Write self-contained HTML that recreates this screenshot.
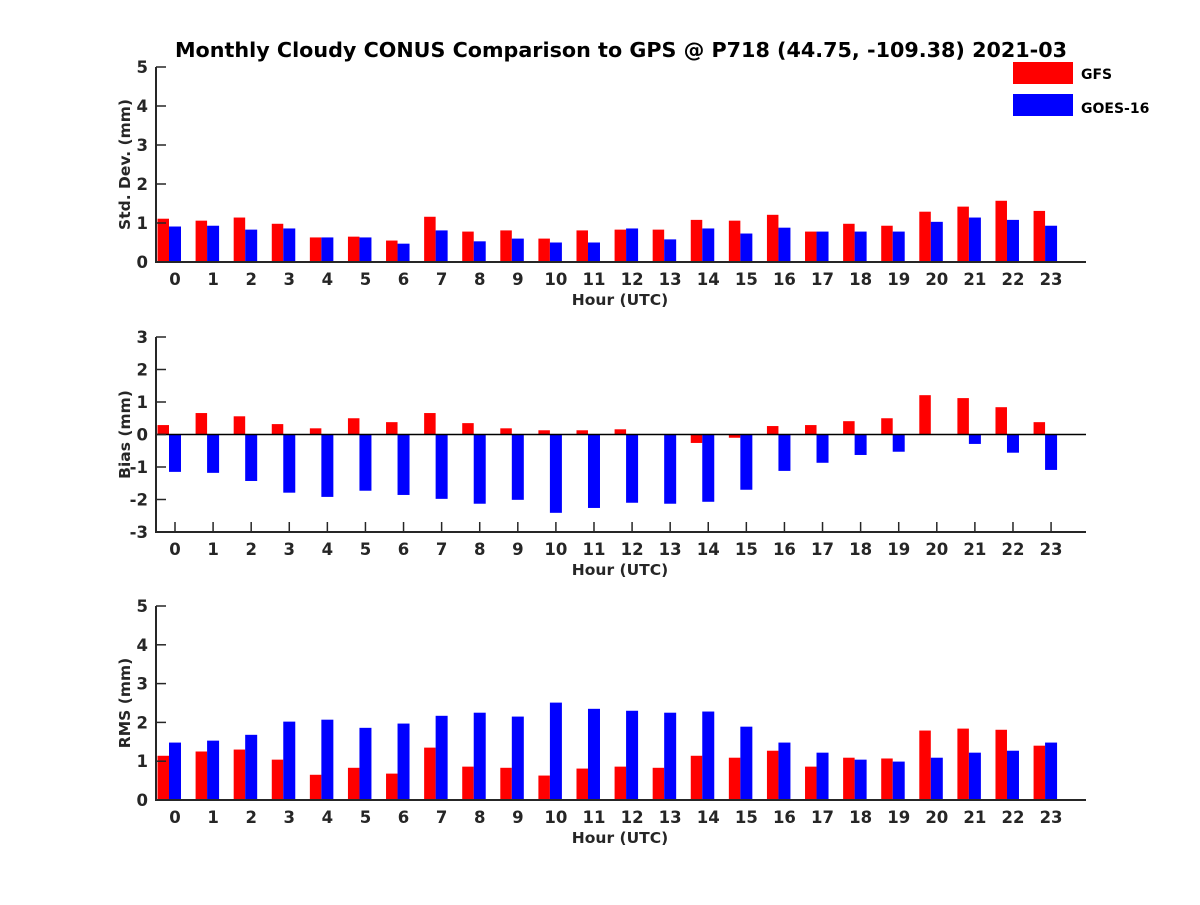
<!DOCTYPE html>
<html><head><meta charset="utf-8"><style>
body{margin:0;background:#fff;}
svg text{font-family:"DejaVu Sans","Liberation Sans",sans-serif;font-weight:bold;}
</style></head><body>
<svg id="chart" width="1200" height="900" xmlns="http://www.w3.org/2000/svg">
<text x="621" y="57" font-size="20.7" text-anchor="middle" fill="#000">Monthly Cloudy CONUS Comparison to GPS @ P718 (44.75, -109.38) 2021-03</text>
<g>
<rect x="1013" y="62" width="60" height="22" fill="#ff0000"/>
<text x="1081" y="79" font-size="14" fill="#000">GFS</text>
<rect x="1013" y="94" width="60" height="22" fill="#0000ff"/>
<text x="1081" y="113" font-size="14" fill="#000">GOES-16</text>
</g>
</svg>
<script>
const hours = [0,1,2,3,4,5,6,7,8,9,10,11,12,13,14,15,16,17,18,19,20,21,22,23];
const stdGFS  = [1.11,1.06,1.14,0.98,0.63,0.65,0.55,1.16,0.78,0.81,0.60,0.81,0.83,0.83,1.08,1.06,1.21,0.78,0.98,0.93,1.29,1.42,1.57,1.31];
const stdGOES = [0.91,0.93,0.83,0.86,0.63,0.63,0.47,0.81,0.53,0.60,0.50,0.50,0.86,0.58,0.86,0.73,0.88,0.78,0.78,0.78,1.03,1.14,1.08,0.93];
const biasGFS  = [0.29,0.66,0.56,0.32,0.19,0.50,0.38,0.66,0.35,0.19,0.13,0.13,0.16,0.0,-0.26,-0.10,0.26,0.29,0.41,0.50,1.21,1.12,0.84,0.38];
const biasGOES = [-1.15,-1.18,-1.43,-1.79,-1.92,-1.73,-1.86,-1.98,-2.13,-2.01,-2.41,-2.26,-2.10,-2.13,-2.07,-1.70,-1.12,-0.87,-0.63,-0.53,0.0,-0.29,-0.56,-1.09];
const rmsGFS  = [1.14,1.25,1.30,1.04,0.65,0.83,0.68,1.35,0.86,0.83,0.63,0.81,0.86,0.83,1.14,1.09,1.27,0.86,1.09,1.07,1.79,1.84,1.81,1.40];
const rmsGOES = [1.48,1.53,1.68,2.02,2.07,1.86,1.97,2.17,2.25,2.15,2.51,2.35,2.30,2.25,2.28,1.89,1.48,1.22,1.04,0.99,1.09,1.22,1.27,1.48];
const stdTicks = [0,1,2,3,4,5];
const biasTicks = [-3,-2,-1,0,1,2,3];
const rmsTicks = [0,1,2,3,4,5];

const NS='http://www.w3.org/2000/svg';
const svg=document.getElementById('chart');
function mk(tag,attrs,parent){const e=document.createElementNS(NS,tag);for(const k in attrs)e.setAttribute(k,attrs[k]);(parent||svg).appendChild(e);return e;}
const X0=156,X1=1086;
function xs(h){return 175+38.09*h;}

function panel(key,top,bottom,ymin,ymax,ticks,red,blue,ylabel,zeroLine,bottomTicks){
  const g=mk('g',{});
  
  
  const ys=v=>bottom-(v-ymin)/(ymax-ymin)*(bottom-top);
  const z=ys(Math.max(ymin,0));
  hours.forEach((h,i)=>{
    const t=xs(h);
    const vr=red[i], vb=blue[i];
    const r=mk('rect',{x:t-17.5,y:Math.min(ys(vr),z),width:11.5,height:Math.abs(ys(vr)-z),fill:'#ff0000'},g);
    
    
    const b=mk('rect',{x:t-6,y:Math.min(ys(vb),z),width:12,height:Math.abs(ys(vb)-z),fill:'#0000ff'},g);
    
    
    const lb=mk('text',{x:t,y:bottom+23,'font-size':16.5,'text-anchor':'middle',fill:'#262626'},g);
    lb.textContent=h;
    
    
    if(bottomTicks){
      const tk=mk('line',{x1:t,x2:t,y1:bottom,y2:bottom-10,stroke:'#262626','stroke-width':1.5},g);
      
      
    }
  });
  if(zeroLine){
    const zl=mk('line',{x1:X0,x2:X1,y1:z,y2:z,stroke:'#000','stroke-width':1.5},g);
    
    
  }
  ticks.forEach(v=>{
    const y=ys(v);
    const tk=mk('line',{x1:X0,x2:X0+10,y1:y,y2:y,stroke:'#262626','stroke-width':1.5},g);
    
    
    const tl=mk('text',{x:X0-8,y:y+6,'font-size':16.5,'text-anchor':'end',fill:'#262626'},g);
    tl.textContent=v;
    
    
  });
  const ax=mk('path',{d:`M${X0},${top} L${X0},${bottom} L${X1},${bottom}`,stroke:'#262626','stroke-width':2,fill:'none'},g);
  
  
  const xt=mk('text',{x:620,y:bottom+43,'font-size':15.5,'text-anchor':'middle',fill:'#262626'},g);
  xt.textContent='Hour (UTC)';
  
  
  const cy=(top+bottom)/2;
  const yt=mk('text',{x:0,y:0,'font-size':15.5,'text-anchor':'middle',fill:'#262626',transform:`translate(130,${cy}) rotate(-90)`},g);
  yt.textContent=ylabel;
  
  
}
panel('std',67,262,0,5,stdTicks,stdGFS,stdGOES,'Std. Dev. (mm)',false,false);
panel('bias',337,532,-3,3,biasTicks,biasGFS,biasGOES,'Bias (mm)',true,true);
panel('rms',606,800,0,5,rmsTicks,rmsGFS,rmsGOES,'RMS (mm)',false,false);
</script>
</body></html>
